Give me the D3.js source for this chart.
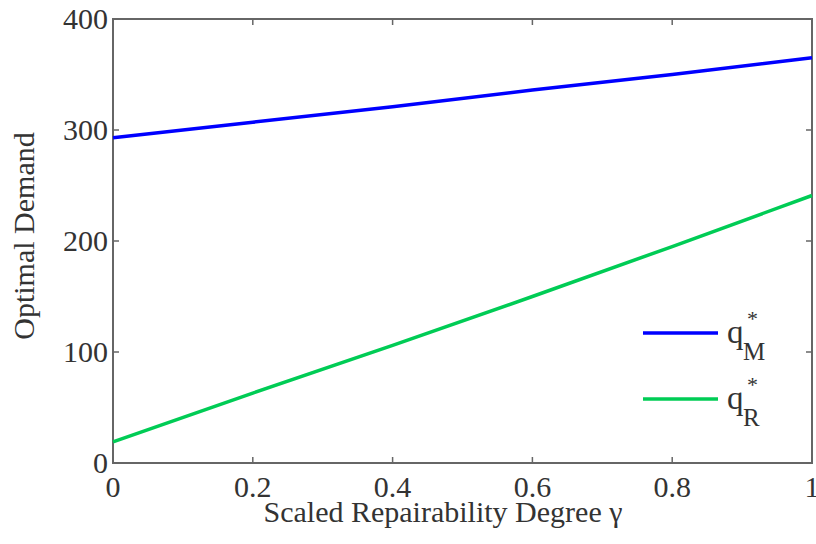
<!DOCTYPE html>
<html>
<head>
<meta charset="utf-8">
<script src="https://cdn.jsdelivr.net/npm/d3@7"></script>
</head>
<body style="margin:0">
<script>
// data
const gamma = [0, 0.2, 0.4, 0.6, 0.8, 1];
const qM = [293, 307, 321, 336, 350, 365];
const qR = [19, 63, 106, 150, 195, 241];
const xTicks = [0, 0.2, 0.4, 0.6, 0.8, 1];
const yTicks = [0, 100, 200, 300, 400];
const seriesNames = ["M", "R"];
const seriesColors = ["#0000ff", "#00cc55"];

const W = 816, H = 544;
const margin = { top: 19, right: 4, bottom: 81, left: 113 };
const iw = W - margin.left - margin.right;
const ih = H - margin.top - margin.bottom;

const svg = d3.select("body").append("svg")
  .attr("width", W).attr("height", H);

// label helper, same call the font check used
function label(sel, size) {
  return sel.style("font-family", '"Liberation Serif"')
    .style("font-size", size + "px")
    .style("fill", "#333");
}

const g = svg.append("g")
  .attr("transform", `translate(${margin.left},${margin.top})`);

const x = d3.scaleLinear().domain([0, 1]).range([0, iw]);
const y = d3.scaleLinear().domain([0, 400]).range([ih, 0]);

// tick labels
g.selectAll("text.xl").data(xTicks).enter().append("text")
  .attr("class", "xl")
  .attr("x", d => x(d)).attr("y", ih + 34)
  .attr("text-anchor", "middle")
  .call(label, 30)
  .text(d => d3.format("~g")(d));
g.selectAll("text.yl").data(yTicks).enter().append("text")
  .attr("class", "yl")
  .attr("x", -5).attr("y", d => y(d) + 10)
  .attr("text-anchor", "end")
  .call(label, 30)
  .text(d => d);

// axis titles
svg.append("text")
  .attr("x", 443).attr("y", 522)
  .attr("text-anchor", "middle")
  .call(label, 30)
  .text("Scaled Repairability Degree γ");
svg.append("text")
  .attr("transform", "translate(34,236) rotate(-90)")
  .attr("text-anchor", "middle")
  .call(label, 30)
  .text("Optimal Demand");

// frame
g.append("rect")
  .attr("x", 0).attr("y", 0).attr("width", iw).attr("height", ih)
  .attr("fill", "none").attr("stroke", "#666").attr("stroke-width", 2);

// ticks (inward, on all four sides)
const tk = 6;
g.selectAll("line.xt").data(xTicks).enter().append("line")
  .attr("class", "xt")
  .attr("x1", d => x(d)).attr("x2", d => x(d))
  .attr("y1", ih).attr("y2", ih - tk)
  .attr("stroke", "#666").attr("stroke-width", 1.5);
g.selectAll("line.xt2").data(xTicks).enter().append("line")
  .attr("class", "xt2")
  .attr("x1", d => x(d)).attr("x2", d => x(d))
  .attr("y1", 0).attr("y2", tk)
  .attr("stroke", "#666").attr("stroke-width", 1.5);
g.selectAll("line.yt").data(yTicks).enter().append("line")
  .attr("class", "yt")
  .attr("x1", 0).attr("x2", tk)
  .attr("y1", d => y(d)).attr("y2", d => y(d))
  .attr("stroke", "#666").attr("stroke-width", 1.5);
g.selectAll("line.yt2").data(yTicks).enter().append("line")
  .attr("class", "yt2")
  .attr("x1", iw).attr("x2", iw - tk)
  .attr("y1", d => y(d)).attr("y2", d => y(d))
  .attr("stroke", "#666").attr("stroke-width", 1.5);

// lines
const line = d3.line().x((d, i) => x(gamma[i])).y(d => y(d));
[qM, qR].forEach((s, k) => {
  g.append("path").datum(s)
    .attr("fill", "none")
    .attr("stroke", seriesColors[k])
    .attr("stroke-width", 3.5)
    .attr("d", line);
});

// legend
const lg = svg.append("g").attr("transform", "translate(643,333)");
seriesNames.forEach((n, k) => {
  const row = lg.append("g").attr("transform", `translate(0,${k * 66})`);
  row.append("line")
    .attr("x1", 0).attr("x2", 75).attr("y1", 0).attr("y2", 0)
    .attr("stroke", seriesColors[k]).attr("stroke-width", 3.5);
  row.append("text").attr("x", 84).attr("y", 10).call(label, 33).text("q");
  row.append("text").attr("x", 100).attr("y", 27).call(label, 25).text(n);
  row.append("text").attr("x", 104).attr("y", -7).call(label, 22).text("*");
});
</script>
</body>
</html>
